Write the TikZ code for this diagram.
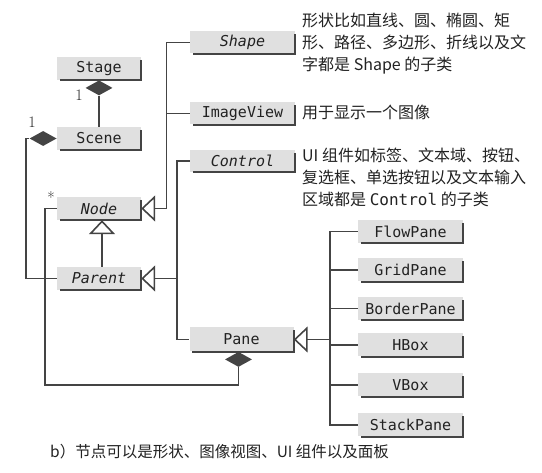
\documentclass[tikz,border=0pt]{standalone}
\usepackage{fontspec}
\newfontfamily\cjk{Noto Sans CJK SC}
\newfontfamily\boxfont{DejaVu Sans Mono}
\usetikzlibrary{arrows.meta,shapes.geometric}
\definecolor{boxgray}{HTML}{E0E0E0}
\definecolor{linegray}{HTML}{444444}
\definecolor{textgray}{HTML}{222222}
\tikzset{
  umlbox/.style={fill=boxgray, inner sep=0pt, text=textgray,
    font=\boxfont\fontsize{15}{16}\selectfont},
  lbox/.style={umlbox, minimum width=84, minimum height=23},
  mbox/.style={umlbox, minimum width=105, minimum height=22},
  rbox/.style={umlbox, minimum width=105, minimum height=23},
  shadowline/.style={draw=linegray, line width=2.2pt},
  conn/.style={draw=linegray, line width=1.6pt},
  inherit/.style={conn, -{Triangle[open, length=14pt, width=26pt, fill=white]}},
  agg/.style={shape=diamond, fill=linegray, draw=none, inner sep=0pt,
    minimum width=27, minimum height=15},
  desc/.style={anchor=west, align=left, inner sep=0pt, text=textgray,
    font=\cjk\fontsize{16}{22}\selectfont},
  mult/.style={inner sep=0pt, text=textgray, font=\fontsize{16}{18}\selectfont},
}
\begin{document}
\begin{tikzpicture}[x=1pt, y=-1pt]
\useasboundingbox[fill=white] (0,0) rectangle (542,473);

% left column
\node[lbox] (stage) at (99,68.5) {Stage};
\node[lbox] (scene) at (99,138.5) {Scene};
\node[lbox] (node) at (99,208.5) {\itshape Node};
\node[lbox] (parent) at (99,278.5) {\itshape Parent};

% middle column
\node[mbox] (shape) at (242.5,42.5) {\itshape Shape};
\node[mbox] (imageview) at (242.5,113.5) {ImageView};
\node[mbox] (control) at (242.5,161) {\itshape Control};
\node[umlbox, minimum width=104, minimum height=24] (pane) at (241.5,339.5) {Pane};

% right column
\node[rbox] (flow) at (410.5,231.5) {FlowPane};
\node[rbox] (grid) at (410.5,270) {GridPane};
\node[rbox] (border) at (410.5,308.5) {BorderPane};
\node[rbox] (hbox) at (410.5,345) {HBox};
\node[rbox] (vbox) at (410.5,385) {VBox};
\node[rbox] (stack) at (410.5,425) {StackPane};

% shadows
\foreach \n in {stage,scene,node,parent,shape,imageview,control,pane,flow,grid,border,hbox,vbox,stack}{
  \draw[shadowline] ([yshift=-3pt]\n.north east) -- (\n.south east) -- ([xshift=3pt]\n.south west);
}

% descriptions
\node[desc] (dshape) at (302,44) {形状比如直线、圆、椭圆、矩\\形、路径、多边形、折线以及文\\字都是 Shape 的子类};
\node[desc] (dimage) at (302,112) {用于显示一个图像};
\node[desc] (dcontrol) at (302,177) {UI 组件如标签、文本域、按钮、\\复选框、单选按钮以及文本输入\\区域都是 {\boxfont Control} 的子类};

% aggregation
\node[agg, anchor=north] (sd) at (stage.south) {};
\draw[conn] (sd.south) -- (scene.north);
\node[mult] (m1) at (79,95) {1};

\node[agg, anchor=east] (scd) at (scene.west) {};
\draw[conn] (parent.west) -- ++(-31,0) |- (scd.west);
\node[mult] (m2) at (32,122) {1};

\node[agg, anchor=north] (pd) at ([xshift=-3pt]pane.south) {};
\coordinate (nl) at (45,385);
\draw[conn] (node.west) -| (nl) -| (pd.south);
\node[mult] (m3) at (51,198) {*};

% inheritance
\coordinate (busA) at (166.5,0);
\coordinate (busB) at (177,0);
\draw[inherit] (shape.west) -- (shape.west -| busA) |- (node.east);
\draw[conn] (imageview.west) -- (imageview.west -| busA);
\draw[conn] (control.west) -- (control.west -| busB) |- (pane.west);
\draw[inherit] (parent.east -| busB) -- (parent.east);
\draw[inherit] ([xshift=3pt]parent.north) -- ([xshift=3pt]node.south);

\coordinate (busC) at (330,0);
\draw[conn] (flow.west) -- (flow.west -| busC) -- (stack.west -| busC) -- (stack.west);
\foreach \n in {grid,border,hbox,vbox}{
  \draw[conn] (\n.west) -- (\n.west -| busC);
}
\draw[inherit] (pane.east -| busC) -- (pane.east);

% caption
\node[anchor=west, inner sep=0pt, text=textgray, font=\cjk\fontsize{15.5}{17}\selectfont] (caption) at (50,452) {b）节点可以是形状、图像视图、UI 组件以及面板};
\end{tikzpicture}
\end{document}
